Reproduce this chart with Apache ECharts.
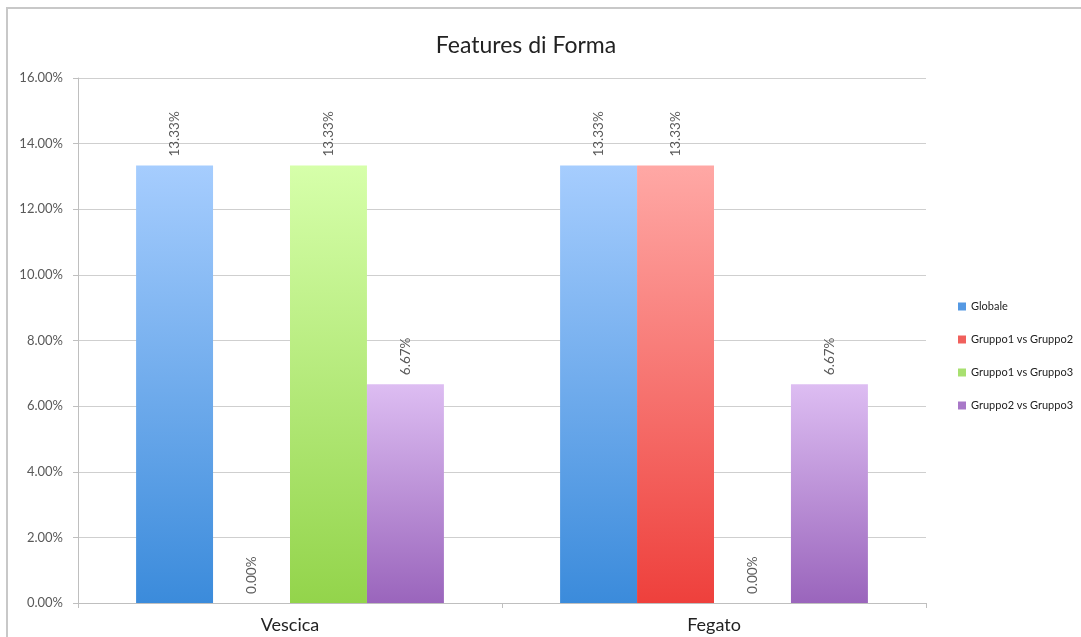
<!DOCTYPE html>
<html>
<head>
<meta charset="utf-8">
<script src="https://cdn.jsdelivr.net/npm/echarts@6/dist/echarts.min.js"></script>
<style>
  html, body { margin: 0; padding: 0; background: #fff; overflow: hidden; width: 1081px; height: 637px; }
  #frame { position: absolute; left: 6px; top: 7px; width: 1200px; height: 700px;
           border-left: 2px solid #c8c8c8; border-top: 2px solid #c8c8c8; }
  #main { position: absolute; left: 0; top: 0; width: 1081px; height: 637px; }
</style>
</head>
<body>
<div id="frame"></div>
<div id="main"></div>
<script>
// dati
var categories = ['Vescica', 'Fegato'];
var seriesNames = ['Globale', 'Gruppo1 vs Gruppo2', 'Gruppo1 vs Gruppo3', 'Gruppo2 vs Gruppo3'];
var globale = [13.33, 13.33];
var g1g2 = [0.00, 13.33];
var g1g3 = [13.33, 0.00];
var g2g3 = [6.67, 6.67];
var yTicks = [0, 2, 4, 6, 8, 10, 12, 14, 16];

// colori: [alto, basso, legenda]
var colors = [
  ['#a6cdfe', '#3b8bdb', '#5599e3'],
  ['#ffa8a5', '#ee403c', '#f0605c'],
  ['#d6ffaa', '#93d44b', '#a8e070'],
  ['#ddbdf2', '#9a65bc', '#a878c8']
];

var myChart = echarts.init(document.getElementById('main'));
var font = 'Lato, "Open Sans", sans-serif';

function makeSeries(name, data, c) {
  return {
    name: name,
    type: 'bar',
    data: data,
    barGap: '0%',
    barCategoryGap: '27.4%',
    itemStyle: {
      color: new echarts.graphic.LinearGradient(0, 0, 0, 1, [
        { offset: 0, color: c[0] },
        { offset: 1, color: c[1] }
      ])
    },
    label: {
      show: true,
      position: 'top',
      rotate: 90,
      align: 'left',
      verticalAlign: 'middle',
      distance: 9,
      color: '#595959',
      fontSize: 13.5,
      fontFamily: font,
      formatter: function (p) { return p.value.toFixed(2) + '%'; }
    }
  };
}

var allData = [globale, g1g2, g1g3, g2g3];

var option = {
  animation: false,
  title: {
    text: 'Features di Forma',
    left: 521,
    textAlign: 'center',
    top: 29,
    textStyle: { fontSize: 23, fontWeight: 'normal', color: '#222', fontFamily: font }
  },
  legend: {
    orient: 'vertical',
    left: 953,
    top: 296,
    itemWidth: 8,
    itemHeight: 8,
    itemGap: 22,
    icon: 'rect',
    textStyle: { fontSize: 11, color: '#222', fontFamily: font },
    data: seriesNames.map(function (n, i) {
      return { name: n, itemStyle: { color: colors[i][2] } };
    })
  },
  grid: { left: 78, right: 155, top: 78, bottom: 34 },
  xAxis: {
    type: 'category',
    data: categories,
    axisLine: { lineStyle: { color: '#bfbfbf', width: 1 } },
    axisTick: { show: true, length: 5, lineStyle: { color: '#bfbfbf' } },
    axisLabel: { fontSize: 18, color: '#222', margin: 13, fontFamily: font }
  },
  yAxis: {
    type: 'value',
    min: yTicks[0],
    max: yTicks[yTicks.length - 1],
    interval: 2,
    axisLine: { show: true, lineStyle: { color: '#bfbfbf' } },
    axisTick: { show: true, length: 5, lineStyle: { color: '#bfbfbf' } },
    splitLine: { lineStyle: { color: '#cfcfcf' } },
    axisLabel: {
      fontSize: 13, color: '#595959', margin: 15, fontFamily: font,
      formatter: function (v) { return v.toFixed(2) + '%'; }
    }
  },
  series: seriesNames.map(function (n, i) { return makeSeries(n, allData[i], colors[i]); })
};

myChart.setOption(option);
</script>
</body>
</html>
